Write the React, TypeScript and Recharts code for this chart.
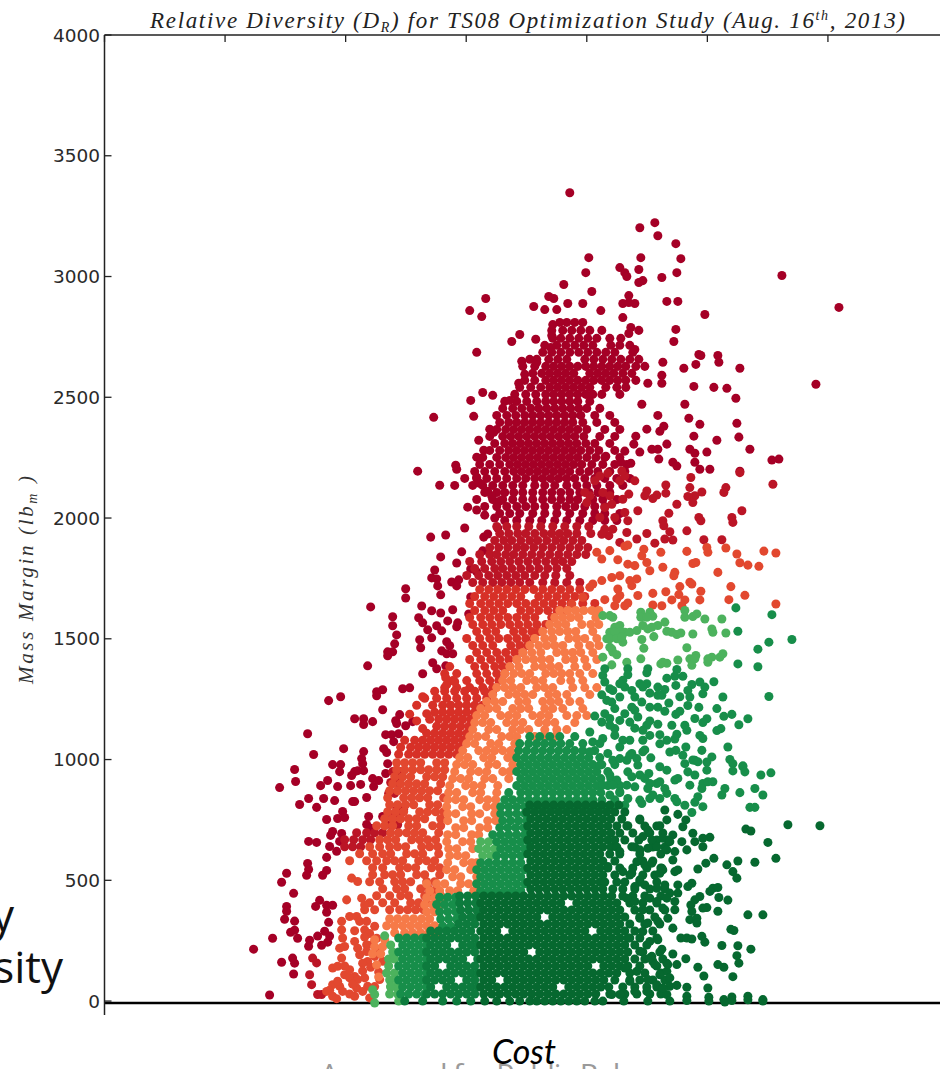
import { ScatterChart, Scatter, XAxis, YAxis, ZAxis } from "recharts";

type Row = [number, number[]];
type Pair = [number, number];

const massTicks = [0, 500, 1000, 1500, 2000, 2500, 3000, 3500, 4000];
const costTicks = [0, 120.5, 241, 361.5, 482, 602.5, 723, 843.5];

// [cost, mass margin]
const deepRedPoints: Pair[] = [
  [381,2909],[365,2859],[377,2834],[444,2917],[449,2909],[429,2876],[440,2863],[452,2863],[448,2801],[447,2756],[415,2760],[407,2731],[431,2740],[446,2706],[372,2686],[417,2649],[425,2657],[418,2628],[432,2645],[420,2595],[414,2558],[378,2520],[388,2508],[366,2487],[405,2487],[369,2421],[329,2417],[385,2368],[389,2355],[374,2322],[379,2281],[372,2252],[351,2219],[313,2194],
  [465,3347],[535,3202],[550,3223],[553,3169],[571,3136],[536,3078],[576,3074],[484,3078],[481,3016],[515,3037],[534,3029],[520,3016],[522,3000],[557,2996],[572,3016],[538,2983],[534,2975],[677,3004],[459,2967],[487,2938],[524,2921],[518,2888],[530,2888],[524,2892],[562,2897],[573,2897],[463,2888],[478,2888],[496,2859],[600,2843],[734,2872],[518,2830],[571,2781],[569,2731],[534,2777],[526,2789],[524,2764],[530,2698],[594,2677],[596,2673],[613,2673],[614,2645],[558,2645],[579,2620],[591,2636],[635,2620],[557,2591],[557,2558],[543,2558],[589,2545],[609,2541],[622,2537],[631,2496],[711,2554],[537,2471],[580,2471],[553,2425],[584,2413],[595,2388],[632,2392],[542,2368],[559,2380],[555,2359],[589,2339],[634,2335],[612,2322],[531,2339],[645,2285],[562,2306],[585,2285],[602,2273],[590,2268],[667,2240],[674,2244],[547,2285],[553,2285],[520,2277],[529,2306],[535,2273],[554,2244],[568,2231],[590,2231],[572,2215],[516,2231],[526,2227],[501,2256],[595,2202],[605,2202],[635,2194],
  [335,2136],[352,2202],[372,2169],[375,2144],[383,2111],[387,2091],[395,2070],[363,2045],[372,2033],[380,2012],[390,2000],[360,1959],[326,1921],[341,1930],[379,1921],[383,1934],[393,1959],[378,1864],[357,1860],[336,1839],[352,1814],[330,1785],[327,1752],[332,1748],[333,1719],[336,1682],[347,1735],[354,1744],[352,1719],[366,1789],[372,1777],[301,1707],[301,1669],[366,1673],[266,1632],[317,1636],[327,1616],[336,1607],[348,1620],[364,1603],[314,1587],[318,1566],[288,1591],[288,1554],[292,1516],[343,1574],[353,1566],[352,1550],[332,1554],[337,1533],[323,1537],[327,1504],[315,1496],[316,1463],[290,1479],[283,1446],[288,1446],[283,1430],[342,1488],[345,1471],[263,1388],[337,1450],[342,1438],[348,1438],[328,1401],[332,1376],[318,1355],[341,1388],
  [272,1281],[278,1289],[272,1264],[298,1293],[305,1297],[224,1244],[236,1260],[278,1206],[250,1169],[259,1169],[259,1145],[268,1157],[291,1161],[295,1186],[292,1149],[301,1140],[308,1157],[281,1103],[287,1103],[294,1107],[289,1074],[203,1107],[209,1021],[239,1045],[279,1045],[282,1029],[259,1033],[257,1004],[258,983],
  [190,959],[191,909],[175,884],[228,979],[236,979],[235,950],[250,950],[247,934],[259,954],[253,954],[216,892],[223,913],[233,888],[246,892],[256,897],[268,921],[274,913],[269,888],[281,942],[283,983],[204,839],[219,839],[230,830],[195,814],[212,802],[250,826],[248,826],[262,843],[222,752],[233,756],[238,785],[240,760],[264,764],[278,764],[262,731],[266,715],[228,702],[226,686],[237,694],[235,661],[204,661],[212,657],[225,640],[232,620],[222,595],[203,570],[204,545],[202,521],[222,541],[218,521],[182,529],[177,492],[189,446],[215,417],[211,392],[222,397],[228,397],[222,368],[182,392],[182,372],[180,339],[224,326],[190,331],[190,293],[186,285],[193,260],[168,260],[149,215],[213,269],[220,289],[225,269],[223,244],[217,231],[205,252],[204,227],[177,161],[188,178],[190,157],[189,112],[165,25],
];

const deepRedRows: Row[] = [
  [2810,[455,462,470,478]],
  [2777,[447,458,467,476,485,497]],
  [2744,[448,456,465,474,483,492,505,516]],
  [2715,[440,452,461,470,479,488,506,515,525]],
  [2686,[438,447,456,465,474,483,492,501,510,528]],
  [2657,[432,444,453,462,480,489,498,507,516,525,534]],
  [2628,[430,441,449,457,465,473,481,489,497,505,513,521,531,540]],
  [2599,[428,437,445,453,461,469,485,493,501,509,518,527]],
  [2570,[420,430,441,449,457,465,473,481,489,497,505,513,521,531]],
  [2541,[415,426,436,445,453,461,469,477,485,501,512,521]],
  [2512,[410,421,431,441,449,457,465,473,481,488,497,515]],
  [2483,[400,412,422,432,441,449,457,465,473,485]],
  [2454,[398,408,417,426,434,442,450,458,466,474,482,495]],
  [2425,[392,402,411,420,428,436,444,452,460,468,476,490,505]],
  [2396,[395,404,412,420,428,436,444,452,460,468,478,492,510]],
  [2367,[392,401,409,417,425,433,441,449,457,465,473,482,500,515]],
  [2338,[385,398,406,414,422,430,438,446,454,462,470,479,495,510]],
  [2309,[390,400,408,416,424,432,440,448,456,464,472,481,490,505]],
  [2280,[385,395,404,412,420,428,436,444,452,460,468,476,485,494,510]],
  [2251,[378,392,401,409,417,425,433,441,449,457,465,473,482,491,500,515]],
  [2222,[375,385,395,405,413,421,429,437,445,453,461,469,477,487,498,510,522]],
  [2193,[370,380,390,400,409,417,425,433,441,449,457,465,475,484,493,505,520]],
  [2164,[360,372,382,392,402,412,421,430,438,446,454,462,470,480,490,500,512,525]],
  [2135,[350,368,378,388,398,408,418,430,440,450,462,472,482,492,505,518]],
  [2106,[380,392,400,409,418,428,438,447,456,465,475,484,493,505]],
  [2077,[372,388,398,408,418,428,438,447,456,465,473,488,498,512]],
  [2048,[380,392,402,412,421,430,440,452,461,470,480,490,500]],
  [2019,[395,405,415,428,440,452,465,478,490,500,515]],
  [1990,[400,412,425,437,450,462,475,488,500,512]],
];

const darkRedPoints: Pair[] = [
  [668,2140],[635,2188],[621,2126],[619,2106],[637,2030],[627,2002],[628,1982],[594,2002],[596,1989],[582,1947],[597,2108],[590,2092],[583,2089],[588,2064],[585,2126],[586,2168],[572,2057],[564,2020],[561,2137],[561,2103],[542,2112],[540,2092],[552,2095],[548,2081],[558,1989],[559,1968],[565,1943],[560,1913],[568,1909],[542,1936],[550,1896],[532,1913],[522,1940],[523,1989],[533,2030],[520,2023],[510,2002],[524,2099],[518,2078],[505,2092],[498,2106],[507,2057],[500,2044],[530,2154],[515,2154],[520,2174],[503,2185],[517,2195],[495,2002],[504,1927],[500,1954],[497,1933],[508,1954],[515,1899],[490,2154],[495,2174],[485,2092],[480,2106],[482,2064],[617,1910],[599,1910],
  [208,178],[205,109],[212,158],[207,68],[213,27],[217,27],
];

const darkRedRows: Row[] = [
  [1965,[392,402,412,424,436,448,460,472,484]],
  [1936,[395,404,413,421,430,439,447,455,463,472,486]],
  [1907,[390,399,407,416,425,433,442,451,459,468,477]],
  [1878,[385,394,403,412,420,429,438,447,456,465,474,483]],
  [1849,[375,385,392,401,409,418,427,436,445,454,463,472,481]],
  [1820,[365,377,387,396,405,414,423,432,441,450,458,467]],
  [1791,[370,380,390,398,407,416,425,434,443,452,462]],
  [1762,[362,374,384,393,402,411,420,430,440,451,465]],
  [1733,[368,378,388,397,406,415,425,438,450,462,475]],
  [950,[288,295]],
  [905,[286,293]],
  [860,[284,290]],
  [792,[292,299]],
  [763,[288,295]],
  [730,[286,293]],
  [697,[252,262,270,278]],
  [668,[240,249,258,266]],
  [639,[240,248,256]],
];

const redPoints: Pair[] = [[341,1339],[342,1310],[350,1322],[312,1225],[318,1260],[322,1190],[305,1188],[312,1160],[318,1128]];

const redRows: Row[] = [
  [1704,[375,384,393,402,411,420,429,438,447,456,465,475]],
  [1675,[370,380,389,398,407,416,434,443,452,461,470,480]],
  [1646,[365,376,385,394,403,412,421,430,439,448,457,466,478,490]],
  [1617,[370,380,389,398,416,425,434,443,452,460]],
  [1588,[365,376,385,394,403,412,421,430,447]],
  [1559,[368,378,387,396,405,414,423,432,441]],
  [1530,[372,382,391,409,418,427,434]],
  [1501,[362,375,385,394,403,412,421,429]],
  [1472,[368,378,388,406,415,423]],
  [1443,[372,382,392,401,410,418]],
  [1414,[365,376,386,395,404,412]],
  [1385,[345,370,380,390,398,405]],
  [1356,[340,352,372,382,392,400]],
  [1327,[348,362,375,385,394]],
  [1298,[340,352,365,378,388]],
  [1283,[330,340,350,360,370,380,388]],
  [1254,[320,332,342,352,362,372,382]],
  [1225,[328,338,346,354,362,370,378]],
  [1196,[330,338,346,354,362,370]],
  [1167,[325,334,342,350,358,366]],
  [1138,[332,340,348,356,364]],
  [1109,[322,330,338,346,354,362]],
  [1080,[300,310,318,326,334,342,350,358]],
  [1051,[296,306,314,322,330,338,346,354]],
  [1022,[294,304,312,320,328,336,344,352]],
];

const redOrangePoints: Pair[] = [
  [671,1644],[671,1855],[659,1863],[654,1800],[643,1805],[635,1815],[632,1851],[621,1876],[603,1858],[602,1878],[582,1862],[613,1775],[588,1812],[591,1816],[570,1775],[569,1761],[558,1796],[556,1858],[539,1871],[537,1844],[542,1816],[545,1782],[523,1809],[530,1803],[626,1716],[640,1680],[624,1662],[596,1697],[595,1661],[585,1734],[587,1727],[575,1716],[574,1683],[580,1661],[567,1661],[577,1637],[561,1695],[548,1688],[548,1640],[557,1637],[533,1679],[523,1648],[520,1637],[510,1637],[500,1662],[527,1720],[532,1748],[525,1741],[515,1761],[507,1754],[497,1741],[513,1706],[515,1679],[512,1665],[513,1827],[520,1883],[523,1888],[505,1865],[497,1830],[492,1858],[488,1727],[478,1672],[485,1713],[467,1644],
  [247,509],[253,495],[242,419],[257,426],[260,398],[245,350],[252,350],[255,330],[237,330],[237,295],[250,291],[260,295],[238,261],[240,226],[235,219],[250,247],[253,219],[262,233],[237,178],[255,192],[263,164],[258,157],[228,137],[233,144],[250,102],[240,109],[245,96],[253,89],[228,68],[235,61],[233,82],[252,54],[260,96],[263,61],[228,20],[232,10],[245,29],[250,20],[265,13],[275,89],
  [262,330],[270,310],[265,280],[272,260],[260,265],[268,235],[275,215],[262,205],[270,185],[278,165],[266,140],[274,120],[258,125],[245,130],[240,145],[248,70],[258,40],[270,60],[238,40],[225,45],[222,40],
];

const redOrangeRows: Row[] = [
  [987,[292,300,308,316,332,340]],
  [958,[292,300,308,316,324,332,340]],
  [929,[290,298,306,322,330,338]],
  [900,[288,296,304,312,320,336]],
  [871,[285,293,301,309,317,325,333]],
  [842,[283,299,307,315,323,339]],
  [813,[285,293,301,309,325,333]],
  [784,[283,291,299,315,323,331,339]],
  [755,[280,288,296,304,312,320,336]],
  [726,[272,280,288,304,312,328,336]],
  [697,[286,294,302,310,318,334]],
  [668,[275,283,291,307,315,323,331]],
  [639,[265,275,285,293,301,317,325,333]],
  [610,[255,268,278,286,302,310,318,334]],
  [581,[245,262,272,282,290,298,314,322,330]],
  [552,[268,278,295,303,311,327,335]],
  [523,[268,280,288,296,312,320,335]],
  [494,[265,275,290,298,306,322,330]],
  [465,[278,292,300,316,324,332]],
  [436,[272,285,296,304,320,328,336]],
  [407,[265,278,290,306,314,322]],
  [378,[260,270,285,295,303,311,319,330]],
];

const orangeRows: Row[] = [
  [1617,[455,463,471,479,487,494]],
  [1588,[450,458,466,474,491]],
  [1559,[445,453,461,477,486,494]],
  [1530,[438,447,455,463,471,488]],
  [1501,[430,440,448,464,472,480,492]],
  [1472,[425,434,442,450,458,474,485,494]],
  [1443,[418,427,436,452,460,468,476,488]],
  [1414,[412,421,429,437,445,461,469,480,492]],
  [1385,[405,414,430,438,446,454,470,482]],
  [1356,[400,409,417,425,441,449,457,465,475,488]],
  [1327,[398,406,422,430,438,456,466,478]],
  [1298,[392,400,408,416,432,440,448,468,480,492]],
  [1269,[388,404,412,420,428,444,452,462,485]],
  [1240,[382,390,398,414,422,438,446,454,465,475]],
  [1211,[376,384,392,408,416,424,440,448,458,478]],
  [1182,[372,380,396,404,412,428,436,444,462,472,482]],
  [1153,[370,378,386,402,410,418,434,442,450,470]],
  [1124,[368,384,392,408,416,424,440,452,462]],
  [1095,[365,373,381,397,405,412,430,440,450]],
  [1066,[362,370,386,394,410]],
  [1037,[358,374,382,390,398,406]],
  [1008,[355,363,379,387,403,410]],
  [979,[352,360,368,384,392,408]],
  [950,[350,366,374,382,398,405]],
  [921,[348,356,364,380,388,404]],
  [892,[345,361,369,377,393]],
  [863,[344,352,368,376,392]],
  [834,[343,351,359,375,383,391]],
  [805,[342,358,366,382,390]],
  [776,[343,351,367,375,390]],
  [747,[343,359,367,383,391]],
  [718,[351,359,375,383]],
  [689,[343,351,367,374]],
  [660,[342,358,366]],
  [631,[344,352,368]],
  [602,[345,353,361]],
  [573,[343,359,367,372]],
  [544,[342,350,366,372]],
  [515,[348,356,372]],
  [486,[322,332,340,356,364,372]],
  [457,[325,335,345,353,369]],
  [428,[322,330,338]],
  [399,[320,328,336]],
  [370,[322,330]],
  [341,[285,293,301,309,317,325]],
  [312,[282,290,298,306,314,322,330]],
  [283,[290,300,308,316,324,332]],
  [254,[270,280]],
  [225,[270,278]],
  [196,[268,276]],
  [150,[272]],
  [100,[274]],
];

const lightGreenPoints: Pair[] = [
  [498,1596],[508,1589],[505,1596],[536,1610],[536,1589],[545,1610],[548,1593],[542,1589],[580,1617],[580,1589],[588,1592],[592,1603],[600,1582],[617,1582],[538,1555],[543,1541],[553,1555],[560,1569],[547,1548],[515,1555],[510,1548],[505,1527],[520,1527],[525,1527],[515,1527],[510,1527],[502,1500],[505,1500],[518,1486],[512,1500],[517,1507],[532,1534],[537,1497],[549,1509],[562,1531],[567,1527],[572,1518],[576,1524],[588,1520],[607,1541],[608,1527],[621,1524],[582,1463],[539,1461],[507,1458],[508,1445],[512,1434],[505,1465],[536,1417],[498,1424],[507,1392],[522,1403],[556,1396],[562,1399],[558,1403],[573,1412],[585,1417],[591,1431],[587,1390],[590,1417],[603,1403],[607,1424],[615,1424],[618,1438],[603,1417],
  [376,660],[384,660],[374,631],[382,631],[390,631],[378,602],[386,602],
  [280,270],[286,232],[288,203],[284,174],[290,174],[284,145],[282,116],[290,116],[285,87],[292,87],[286,58],[292,58],[285,29],[293,29],[268,47],[270,27],[270,-8],[286,61],[294,0],
];

const midGreenPoints: Pair[] = [
  [631,1628],[667,1600],[633,1531],[687,1497],[664,1486],[653,1457],[633,1396],[653,1384],[664,1261],[609,1322],[618,1259],[543,1376],[542,1359],[572,1373],[570,1345],[578,1345],[562,1337],[523,1376],[523,1351],[518,1328],[515,1314],[500,1376],[498,1348],[500,1321],[505,1293],[508,1286],[535,1314],[542,1314],[538,1300],[553,1300],[553,1266],[557,1266],[571,1307],[587,1311],[595,1321],[600,1300],[583,1286],[598,1272],[585,1259],[497,1268],[527,1286],[530,1259],[502,1245],[507,1238],[515,1259],[510,1211],[564,1234],[583,1224],[594,1216],[612,1211],[627,1187],[619,1179],[643,1169],[634,1144],[616,1128],[602,1169],[598,1153],[571,1187],[553,1217],[545,1217],[537,1238],[530,1204],[527,1217],[533,1176],[525,1155],[515,1162],[510,1128],[497,1155],[490,1180],[500,1190],[553,1146],[542,1142],[538,1121],[567,1142],[580,1142],[582,1121],[572,1105],[595,1100],[598,1087],[623,1052],[607,1011],[597,1038],[581,1052],[555,1103],[562,1080],[565,1031],[571,1038],[546,1007],[625,1000],[628,983],[638,974],[602,990],[590,997],[578,1018],[580,983],[538,1080],[545,1100],[525,1080],[518,1080],[505,1142],[510,1100],[498,1087],[485,1114],[488,1073],[495,1066],[515,1052],[527,1025],[522,997],[503,1025],[508,997],
  [628,953],[638,970],[640,949],[656,936],[666,945],[602,956],[588,998],[593,991],[544,942],[555,970],[562,956],[570,915],[573,922],[583,949],[590,936],[585,894],[598,901],[603,908],[608,908],[597,880],[552,901],[560,880],[555,839],[570,839],[572,825],[580,811],[587,781],[620,880],[617,853],[635,863],[650,880],[658,853],[645,802],[650,802],[593,846],[590,823],[598,805],[543,880],[535,832],[537,818],[545,839],[523,949],[512,915],[522,894],[527,929],[498,894],[505,853],[497,832],[523,839],[520,811],[508,805],[525,1018],[533,977],[515,1004],
  [532,1004],[538,1032],[535,936],[530,887],[540,922],[545,901],[555,908],[548,853],[562,860],[515,867],[508,894],[505,936],[495,977],[485,1032],[520,1190],[505,1170],[545,1160],[560,1200],[575,1260],[560,1290],[520,1300],[545,1275],[575,1200],[590,1170],[612,1120],[530,1130],[555,1065],[540,1040],[570,1085],
];

const midGreenRows: Row[] = [
  [1095,[425,435,445,455,470]],
  [1066,[415,424,432,440,448,456,465,478]],
  [1037,[414,422,430,438,446,454,462,470,478,490]],
  [1008,[412,420,428,436,444,452,460,468,476,484,495]],
  [979,[416,424,432,440,448,456,464,472,480,488,497,510]],
  [950,[412,420,428,436,444,452,460,468,476,484,492,503]],
  [921,[416,424,432,440,448,456,464,472,480,488,496,506]],
  [892,[412,420,428,436,444,452,460,468,476,484,492,503,515]],
  [863,[404,416,424,432,440,448,456,464,472,480,488,496,515]],
  [834,[400,408,416,424,432,440,448,456,464,472,480,488,510]],
  [805,[396,404,412,420,428,436,444,452,460,468,476,484,492,500]],
  [776,[396,404,412,420]],
  [747,[398,406,414,422]],
  [718,[395,403,411,419]],
  [689,[388,396,404,412,420]],
  [660,[392,400,408,416,424]],
  [631,[396,404,412,420]],
  [602,[392,400,408,416]],
  [573,[376,384,392,400,408,416]],
  [544,[372,380,388,396,404,412,420]],
  [515,[376,384,392,400,408,416]],
  [486,[372,380,388,396,404,412,420]],
  [457,[376,384,392,400,408,416]],
  [430,[335,343,351]],
  [400,[332,340,348]],
  [370,[335,343,351]],
  [340,[336,344,352]],
  [310,[338,346]],
  [261,[294,302,310,318]],
  [232,[298,306,314,322]],
  [203,[294,302,310,318]],
  [174,[298,306,314,322]],
  [145,[294,302,310,318]],
  [116,[298,306,314,322]],
  [87,[294,302,310,318]],
  [58,[298,306,314,322]],
  [29,[296,304,312,320]],
];

const greenRows: Row[] = [
  [435,[355,363,371]],
  [406,[355,363,371]],
  [377,[356,364,372]],
  [348,[358,366,373]],
  [319,[354,362,370]],
  [290,[326,334,342,350,358,366]],
  [261,[322,330,338,346,354,362,370]],
  [232,[326,334,342,358,366,373]],
  [203,[322,330,338,346,354,362,370]],
  [174,[326,334,342,350,358,373]],
  [145,[322,330,346,354,362,370]],
  [116,[326,334,342,350,358,366,373]],
  [87,[322,330,338,346,362,370]],
  [58,[326,342,350,358,366,373]],
  [29,[322,330,338,346,354,362,370]],
  [0,[300,318,338,352,366]],
];

const darkGreenPoints: Pair[] = [
  [715,726],[683,730],[641,712],[646,704],[663,657],[671,591],[650,575],[633,580],[622,564],[609,591],[628,536],[632,509],[601,571],[593,547],[605,678],[598,674],[598,639],[588,695],[590,660],[582,626],[577,660],[581,750],[578,722],[573,773],[560,791],[568,688],[570,619],[568,584],[558,543],[555,529],[570,536],[573,543],[587,488],[583,474],[573,481],[573,447],[608,467],[613,470],[605,454],[614,429],[623,418],[595,433],[590,419],[586,398],[587,371],[602,387],[598,385],[613,372],[585,337],[592,343],[592,323],[643,357],[658,357],[626,297],[629,292],[570,378],[570,412],[568,302],[576,261],[582,261],[587,257],[597,268],[600,244],[617,230],[633,229],[646,215],[632,188],[634,157],[581,175],[568,195],[557,215],[547,185],[548,164],[562,157],[572,151],[562,123],[593,140],[599,104],[613,151],[619,140],[628,101],[572,65],[582,57],[603,54],[582,20],[604,16],[627,17],[643,20],[658,6],[619,6],[565,61],[562,27],
  [519,0],[543,0],[565,0],[582,2],[604,0],[620,-4],[627,2],[643,5],[658,0],
  [523,726],[535,750],[543,708],[555,726],[562,750],[538,681],[547,667],[558,674],[565,660],[535,626],[543,633],[552,639],[562,626],[527,639],[515,619],[532,577],[540,564],[547,571],[557,550],[503,557],[518,536],[527,529],[535,502],[530,474],[540,481],[552,467],[560,481],[565,447],[545,426],[552,412],[562,426],[558,385],[538,378],[530,412],[522,426],[535,343],[543,323],[553,330],[563,343],[538,288],[525,261],[545,247],[553,254],[535,206],[545,178],[550,151],[555,109],[543,89],[532,123],[525,82],[520,137],[563,151],[565,96],[552,68],[542,40],[558,54],[530,40],[515,27],[507,27],
];

const darkGreenRows: Row[] = [
  [812,[425,433,441,449,457,465,473,481,489,497,505,514]],
  [783,[422,430,438,446,454,462,470,478,486,494,502,510,520]],
  [754,[426,434,442,450,458,466,474,482,490,498,506,517,535]],
  [725,[423,431,439,447,455,463,471,479,487,495,503,512,522,540,552]],
  [696,[426,434,442,450,458,466,474,482,490,498,506,515,528,545,558]],
  [667,[423,431,439,447,455,463,471,479,487,495,503,510,520,534,552,563]],
  [638,[426,434,442,450,458,466,474,482,490,498,506,512,530,548,560]],
  [609,[423,431,439,447,455,463,471,479,487,495,505,515,535,556]],
  [580,[426,434,442,450,458,466,474,482,490,498,510,538,548]],
  [551,[423,431,439,447,455,463,471,479,487,495,503,515,528,542,556]],
  [522,[426,434,442,450,458,466,474,482,490,498,510,525,538,550]],
  [493,[423,431,439,447,455,463,471,479,487,495,500,512,520,535,552]],
  [464,[426,434,442,450,458,466,474,482,490,498,508,518,530,545,560]],
  [435,[379,387,395,403,411,419,427,435,443,451,459,467,475,483,491,499,507,518,528,540,556]],
  [406,[376,384,392,400,408,416,424,432,440,448,456,472,480,488,496,504,512,525,538,552]],
  [377,[379,387,395,403,411,419,427,435,443,451,459,467,475,483,491,499,507,515,530,545,560]],
  [348,[376,384,392,400,408,416,424,432,448,456,464,472,480,488,496,504,512,520,535,550]],
  [319,[379,387,395,403,411,419,427,435,443,451,459,467,475,483,491,499,507,515,525,540,555]],
  [290,[376,384,392,408,416,424,432,440,448,456,464,472,480,496,504,512,520,530,548]],
  [261,[379,387,395,403,411,419,427,435,443,451,459,467,475,483,491,499,507,515,523,535,552]],
  [232,[376,384,392,400,408,416,424,432,440,448,456,464,472,480,488,496,504,512,520,530,542]],
  [203,[379,387,395,403,411,419,435,443,451,459,467,475,483,491,499,507,515,523,538,555]],
  [174,[376,384,392,400,408,416,424,432,440,448,456,464,472,480,488,496,504,512,520,530,540,558]],
  [145,[379,387,395,403,411,419,427,435,443,451,459,467,475,483,499,507,515,523,535,552]],
  [116,[376,384,392,400,408,416,424,432,440,448,456,464,472,480,488,496,504,512,525,540,556]],
  [87,[379,387,403,411,419,427,435,443,451,459,467,475,483,491,499,510,525,535,548,560]],
  [58,[376,384,392,400,408,416,424,432,440,448,464,472,480,488,496,504,518,530,542,552]],
  [29,[379,387,395,403,411,419,427,435,443,451,459,467,475,483,491,505,520,532,545,556]],
  [0,[380,392,405,415,425,432,440,448,456,464,472,480,490,498]],
];

const toPoints = (rows: Row[], pairs: Pair[] = []) => [
  ...rows.flatMap(([mass, costs]) => costs.map((cost) => ({ cost, mass }))),
  ...pairs.map(([cost, mass]) => ({ cost, mass })),
];

// the top axis only draws its ticks when a series is tied to it, same scale as the bottom one
const groups = [
  { name: "deepRed", axis: "cost", fill: "#a50026", data: toPoints(deepRedRows, deepRedPoints) },
  { name: "darkRed", axis: "cost", fill: "#bb1526", data: toPoints(darkRedRows, darkRedPoints) },
  { name: "red", axis: "cost", fill: "#d73027", data: toPoints(redRows, redPoints) },
  { name: "redOrange", axis: "cost", fill: "#e2482f", data: toPoints(redOrangeRows, redOrangePoints) },
  { name: "orange", axis: "cost", fill: "#f67a48", data: toPoints(orangeRows) },
  { name: "lightGreen", axis: "top", fill: "#4cb25d", data: toPoints([], lightGreenPoints) },
  { name: "midGreen", axis: "cost", fill: "#178e4a", data: toPoints(midGreenRows, midGreenPoints) },
  { name: "green", axis: "cost", fill: "#0d7b3d", data: toPoints(greenRows) },
  { name: "darkGreen", axis: "cost", fill: "#06682f", data: toPoints(darkGreenRows, darkGreenPoints) },
];

const serif = "'Liberation Serif', serif";
const sans = "'Open Sans', sans-serif";
const noLabel = () => "";

export default function App() {
  return (
    <div style={{ position: "absolute", left: 0, top: 0, width: 940, height: 1069, overflow: "hidden", background: "#fff" }}>
      <ScatterChart width={950} height={1069} margin={{ top: 0, right: 1.5, bottom: 0, left: 0 }}>
        <XAxis
          xAxisId="top"
          orientation="top"
          type="number"
          dataKey="cost"
          domain={[0, 843.5]}
          ticks={costTicks}
          interval={0}
          height={35}
          tickFormatter={noLabel}
          tickSize={-7}
          axisLine={{ stroke: "#222", strokeWidth: 1.5 }}
          tickLine={{ stroke: "#222", strokeWidth: 1.3 }}
        />
        <XAxis
          xAxisId="cost"
          orientation="bottom"
          type="number"
          dataKey="cost"
          domain={[0, 843.5]}
          ticks={[0]}
          interval={0}
          height={66}
          tickFormatter={noLabel}
          tickSize={12}
          axisLine={{ stroke: "#000", strokeWidth: 2.6 }}
          tickLine={{ stroke: "#222", strokeWidth: 1.5 }}
        />
        <YAxis
          type="number"
          dataKey="mass"
          domain={[0, 4000]}
          ticks={massTicks}
          interval={0}
          width={104.5}
          tickSize={-7}
          tickMargin={11.5}
          axisLine={{ stroke: "#222", strokeWidth: 1.5 }}
          tickLine={{ stroke: "#222", strokeWidth: 1.3 }}
          tick={{ fill: "#2a2a2a", fontSize: 18.5, fontFamily: "'DejaVu Sans', sans-serif" }}
        />
        <ZAxis range={[70, 70]} />
        {groups.map((g) => (
          <Scatter key={g.name} xAxisId={g.axis} data={g.data} fill={g.fill} isAnimationActive={false} />
        ))}
        <text x={150} y={28} textLength={755} fontFamily={serif} fontStyle="italic" fontSize={23} fill="#222">
          Relative Diversity (D<tspan dy={4} fontSize={14}>R</tspan><tspan dy={-4}>) for TS08 Optimization Study (Aug. 16</tspan><tspan dy={-8} fontSize={14}>th</tspan><tspan dy={8}>, 2013)</tspan>
        </text>
        <text
          x={33}
          y={580}
          textAnchor="middle"
          textLength={208}
          transform="rotate(-90 33 580)"
          fontFamily={serif}
          fontStyle="italic"
          fontSize={21}
          fill="#333"
        >
          Mass Margin (lb<tspan dy={4} fontSize={14}>m</tspan><tspan dy={-4}> )</tspan>
        </text>
        <text x={14} y={931} textAnchor="end" fontFamily={sans} fontSize={44} fill="#111">by</text>
        <text x={63} y={983} textAnchor="end" fontFamily={sans} fontSize={44} fill="#111">Diversity</text>
        <text x={500} y={1085} textAnchor="middle" textLength={360} fontFamily={sans} fontSize={30} fill="#9a9a9a">Approved for Public Release</text>
        <text x={524} y={1064} textAnchor="middle" fontFamily="Lato, sans-serif" fontStyle="italic" fontSize={34} fill="#000">Cost</text>
      </ScatterChart>
    </div>
  );
}
